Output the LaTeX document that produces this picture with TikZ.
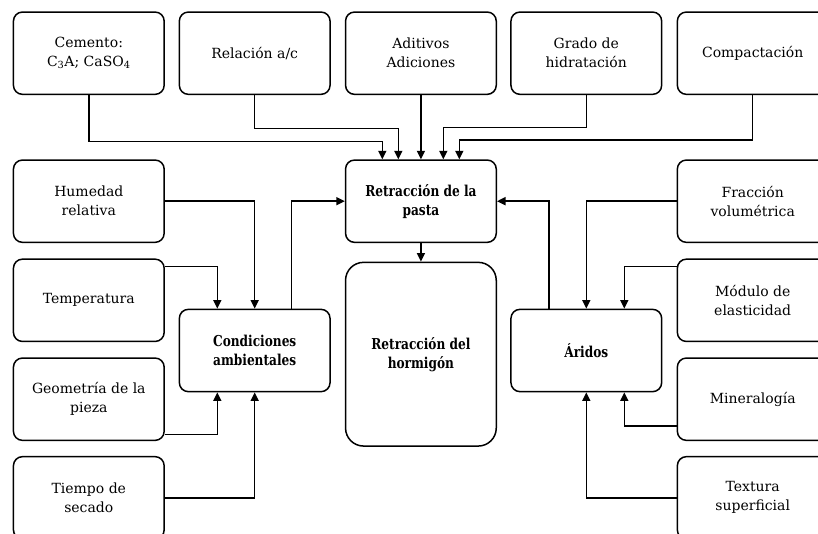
\documentclass[tikz,border=0pt]{standalone}
\usepackage{fontspec}
\setmainfont{DejaVu Serif}[BoldFeatures={FakeStretch=0.81}]
\usetikzlibrary{arrows.meta}
\begin{document}
\begin{tikzpicture}[x=1pt,y=-1pt,
  box/.style={draw,line width=1.5pt,rounded corners=9pt,minimum width=150.7pt,minimum height=82.3pt,inner sep=0pt,align=center,font=\fontsize{14}{19}\selectfont},
  mainbox/.style={box,font=\fontsize{15}{19}\selectfont\bfseries},
  arr/.style={line width=1.5pt,-{Triangle[length=8.5pt,width=8pt]}}]
\useasboundingbox (0,0) rectangle (818,533);
% top row
\node[box] (cem) at (88.8,53.2) {Cemento:\\C\textsubscript{3}A; CaSO\textsubscript{4}};
\node[box] (rel) at (254.7,53.2) {Relación a/c};
\node[box] (adi) at (420.9,53.2) {Aditivos\\Adiciones};
\node[box] (gra) at (586.3,53.2) {Grado de\\hidratación};
\node[box] (com) at (752.7,53.2) {Compactación};
% left column
\node[box] (hum) at (88.8,201.2) {Humedad\\relativa};
\node[box] (tem) at (88.8,300.3) {Temperatura};
\node[box] (geo) at (88.8,399.2) {Geometría de la\\pieza};
\node[box] (tie) at (88.8,497.8) {Tiempo de\\secado};
% right column
\node[box] (fra) at (752.7,201.2) {Fracción\\volumétrica};
\node[box] (mod) at (752.7,300.3) {Módulo de\\elasticidad};
\node[box] (min) at (752.7,399.2) {Mineralogía};
\node[box] (tex) at (752.7,497.8) {Textura\\superficial};
% central
\node[mainbox] (pasta) at (420.9,201.2) {Retracción de la\\pasta};
\node[mainbox,minimum height=183.7pt,rounded corners=18pt] (hor) at (420.9,354.2) {Retracción del\\hormigón};
\node[mainbox] (cond) at (254.7,350.5) {Condiciones\\ambientales};
\node[mainbox] (ari) at (586.3,350.5) {Áridos};
% connectors top
\draw[arr] (cem.south) -- ++(0,46.4) -| ([xshift=-38.6pt]pasta.north);
\draw[arr] (rel.south) -- ++(0,33.4) -| ([xshift=-22.6pt]pasta.north);
\draw[arr] (adi.south) -- (pasta.north);
\draw[arr] (gra.south) -- ++(0,32.4) -| ([xshift=22.4pt]pasta.north);
\draw[arr] (com.south) -- ++(0,45) -| ([xshift=38.4pt]pasta.north);
% left
\draw[arr] (hum.east) -| (cond.north);
\draw[arr] ([yshift=-8.3pt]tem.north east) -| ([xshift=-37.4pt]cond.north);
\draw[arr] ([yshift=6.7pt]geo.south east) -| ([xshift=-37.4pt]cond.south);
\draw[arr] (tie.east) -| (cond.south);
\draw[arr] ([xshift=37pt]cond.north) |- (pasta.west);
% right
\draw[arr] ([xshift=-37.3pt]ari.north) |- (pasta.east);
\draw[arr] (fra.west) -| (ari.north);
\draw[arr] ([yshift=-8.3pt]mod.north west) -| ([xshift=38pt]ari.north);
\draw[arr] ([yshift=15pt]min.south west) -| ([xshift=38pt]ari.south);
\draw[arr] (tex.west) -| (ari.south);
% center
\draw[arr] (pasta.south) -- (hor.north);
\end{tikzpicture}
\end{document}
